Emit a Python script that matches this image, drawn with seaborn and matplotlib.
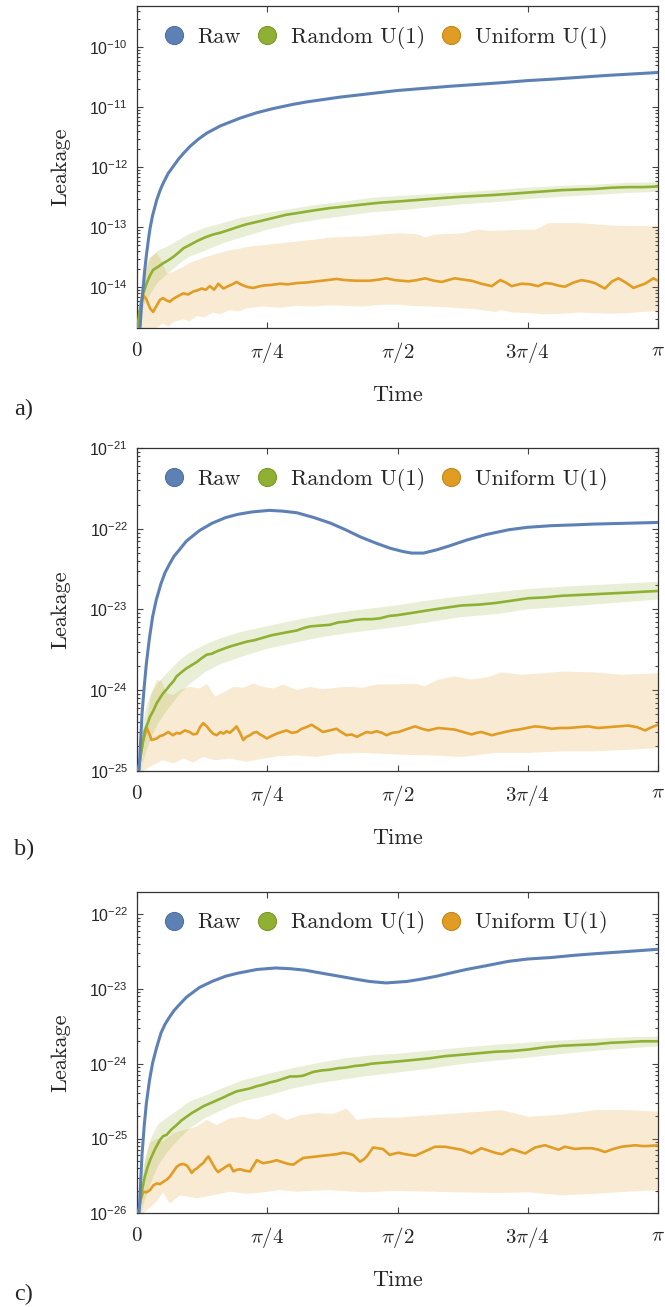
import numpy as np
import matplotlib
matplotlib.use("Agg")
import matplotlib.pyplot as plt
import seaborn as sns
from matplotlib.lines import Line2D
from matplotlib.ticker import FixedLocator, NullFormatter, FuncFormatter

# ---------------- data: time as fraction of pi, leakage as log10 ----------------
# Panel a
raw_a = [(0.0, -16.0), (0.006, -14.66), (0.009, -14.25), (0.012, -13.99), (0.015, -13.7), (0.018, -13.47),
         (0.022, -13.2), (0.025, -13.02), (0.03, -12.8), (0.038, -12.54), (0.045, -12.37), (0.05, -12.27),
         (0.06, -12.1), (0.07, -11.98), (0.08, -11.86), (0.09, -11.76), (0.102, -11.65), (0.118, -11.53),
         (0.134, -11.43), (0.16, -11.31), (0.198, -11.18), (0.23, -11.09), (0.262, -11.02), (0.3, -10.95),
         (0.326, -10.91), (0.39, -10.83), (0.45, -10.77), (0.5, -10.72), (0.6, -10.65), (0.7, -10.59),
         (0.75, -10.555), (0.8, -10.53), (0.9, -10.47), (1.0, -10.42)]
rand_a = [(0.0, -14.75), (0.006, -14.32), (0.012, -14.1), (0.0186, -13.93), (0.025, -13.8), (0.031, -13.71),
          (0.04, -13.66), (0.05, -13.6), (0.06, -13.55), (0.07, -13.49), (0.08, -13.42), (0.089, -13.35),
          (0.1, -13.3), (0.115, -13.23), (0.13, -13.17), (0.146, -13.12), (0.16, -13.09), (0.178, -13.04),
          (0.195, -12.99), (0.21, -12.95), (0.23, -12.91), (0.249, -12.87), (0.268, -12.83), (0.287, -12.79),
          (0.31, -12.76), (0.338, -12.72), (0.37, -12.68), (0.402, -12.65), (0.433, -12.62), (0.466, -12.59),
          (0.5, -12.57), (0.53, -12.55), (0.559, -12.53), (0.59, -12.51), (0.623, -12.49), (0.655, -12.475),
          (0.687, -12.46), (0.72, -12.44), (0.751, -12.42), (0.783, -12.40), (0.815, -12.38), (0.847, -12.37),
          (0.879, -12.36), (0.91, -12.34), (0.943, -12.33), (0.97, -12.33), (1.0, -12.32)]
rand_band_t_a = [0.004, 0.012, 0.025, 0.04, 0.06, 0.08, 0.1, 0.13, 0.16, 0.2, 0.25, 0.3, 0.35, 0.4, 0.45,
                 0.5, 0.56, 0.62, 0.69, 0.75, 0.82, 0.88, 0.94, 1.0]
rand_hi_a = [-14.4, -13.8, -13.5, -13.38, -13.3, -13.2, -13.1, -13.0, -12.93, -12.83, -12.75, -12.68, -12.61,
             -12.56, -12.5, -12.47, -12.44, -12.41, -12.37, -12.33, -12.3, -12.28, -12.25, -12.24]
rand_lo_a = [-14.7, -14.3, -14.1, -13.9, -13.75, -13.6, -13.48, -13.38, -13.27, -13.16, -13.03, -12.93, -12.86,
             -12.8, -12.74, -12.71, -12.66, -12.61, -12.57, -12.52, -12.48, -12.45, -12.42, -12.40]
unif_a = [(0.0, -14.75), (0.008, -14.3), (0.012, -14.13), (0.018, -14.2), (0.025, -14.35), (0.031, -14.41),
          (0.038, -14.3), (0.044, -14.21), (0.05, -14.18), (0.057, -14.22), (0.063, -14.24), (0.07, -14.19),
          (0.076, -14.16), (0.089, -14.10), (0.098, -14.12), (0.108, -14.07), (0.116, -14.05), (0.124, -14.02),
          (0.132, -14.04), (0.14, -13.98), (0.148, -14.04), (0.156, -13.94), (0.166, -14.02), (0.175, -13.98),
          (0.183, -13.95), (0.191, -13.91), (0.199, -13.95), (0.207, -13.98), (0.215, -14.0), (0.223, -14.01),
          (0.232, -13.99), (0.242, -13.97), (0.258, -13.96), (0.274, -13.94), (0.29, -13.95), (0.306, -13.93),
          (0.325, -13.92), (0.345, -13.90), (0.365, -13.88), (0.383, -13.86), (0.4, -13.88), (0.422, -13.89),
          (0.447, -13.89), (0.465, -13.87), (0.479, -13.85), (0.495, -13.88), (0.521, -13.90), (0.537, -13.88),
          (0.553, -13.85), (0.57, -13.89), (0.585, -13.91), (0.597, -13.88), (0.610, -13.85), (0.625, -13.87),
          (0.642, -13.89), (0.661, -13.94), (0.681, -13.98), (0.697, -13.88), (0.708, -13.92), (0.719, -13.98),
          (0.738, -13.94), (0.755, -13.95), (0.770, -13.98), (0.783, -13.93), (0.796, -13.94), (0.808, -13.97),
          (0.821, -13.99), (0.838, -13.92), (0.853, -13.88), (0.866, -13.9), (0.879, -13.93), (0.898, -14.02),
          (0.912, -13.9), (0.924, -13.85), (0.938, -13.92), (0.953, -14.01), (0.965, -13.97), (0.975, -13.94),
          (0.991, -13.85), (1.0, -13.89)]
unif_hi_a = [(0.0, -14.75), (0.006, -14.2), (0.012, -13.71), (0.025, -13.5), (0.038, -13.43), (0.047, -13.55),
             (0.057, -13.77), (0.07, -13.74), (0.089, -13.66), (0.1, -13.6), (0.115, -13.55), (0.13, -13.5),
             (0.146, -13.46), (0.162, -13.42), (0.178, -13.38), (0.195, -13.36), (0.21, -13.33), (0.226, -13.31),
             (0.242, -13.30), (0.258, -13.28), (0.274, -13.27), (0.29, -13.25), (0.306, -13.24), (0.322, -13.22),
             (0.338, -13.21), (0.355, -13.19), (0.37, -13.17), (0.402, -13.16), (0.434, -13.15), (0.47, -13.12),
             (0.502, -13.10), (0.534, -13.11), (0.545, -13.14), (0.553, -13.17), (0.572, -13.12), (0.6, -13.11),
             (0.623, -13.10), (0.655, -13.04), (0.68, -13.06), (0.706, -13.05), (0.735, -13.04), (0.764, -13.04),
             (0.777, -12.99), (0.790, -12.93), (0.82, -12.93), (0.847, -12.93), (0.88, -12.95), (0.911, -12.97),
             (0.95, -12.98), (1.0, -12.98)]
unif_lo_a = [(0.0, -14.75), (0.012, -14.75), (0.03, -14.72), (0.05, -14.6), (0.06, -14.66), (0.07, -14.58),
             (0.089, -14.53), (0.1, -14.57), (0.115, -14.48), (0.13, -14.5), (0.146, -14.42), (0.16, -14.45),
             (0.178, -14.38), (0.195, -14.4), (0.21, -14.35), (0.242, -14.32), (0.274, -14.34), (0.306, -14.31),
             (0.338, -14.32), (0.37, -14.30), (0.402, -14.31), (0.434, -14.32), (0.47, -14.29), (0.5, -14.29),
             (0.53, -14.31), (0.559, -14.32), (0.59, -14.33), (0.623, -14.35), (0.655, -14.37), (0.687, -14.41),
             (0.7, -14.38), (0.72, -14.42), (0.751, -14.43), (0.78, -14.45), (0.815, -14.44), (0.85, -14.42),
             (0.879, -14.43), (0.91, -14.44), (0.943, -14.43), (0.97, -14.41), (1.0, -14.40)]

# Panel b
raw_b = [(0.0, -26.0), (0.004, -25.0), (0.0097, -24.29), (0.014, -23.95), (0.018, -23.67), (0.024, -23.35),
         (0.030, -23.09), (0.037, -22.88), (0.046, -22.68), (0.054, -22.54), (0.063, -22.43), (0.071, -22.34),
         (0.08, -22.27), (0.095, -22.15), (0.12, -22.02), (0.144, -21.93), (0.17, -21.86),
         (0.193, -21.82), (0.22, -21.79), (0.254, -21.77), (0.28, -21.78), (0.307, -21.80), (0.34, -21.86),
         (0.372, -21.93), (0.4, -22.01), (0.429, -22.10), (0.46, -22.18), (0.486, -22.24), (0.51, -22.28),
         (0.527, -22.30), (0.55, -22.30), (0.575, -22.26), (0.6, -22.21), (0.632, -22.14), (0.67, -22.07),
         (0.714, -22.01), (0.75, -21.98), (0.795, -21.96), (0.84, -21.95), (0.877, -21.94), (0.94, -21.93),
         (1.0, -21.92)]
rand_b = [(0.0, -25.1), (0.006, -24.87), (0.01, -24.7), (0.015, -24.5), (0.02, -24.42), (0.025, -24.33),
          (0.031, -24.26), (0.038, -24.16), (0.044, -24.1), (0.05, -24.04), (0.057, -23.99), (0.063, -23.94),
          (0.07, -23.89), (0.076, -23.83), (0.085, -23.78), (0.095, -23.73), (0.105, -23.69), (0.115, -23.65),
          (0.125, -23.6), (0.134, -23.56), (0.143, -23.55), (0.153, -23.52), (0.165, -23.49), (0.178, -23.46),
          (0.194, -23.43), (0.21, -23.40), (0.226, -23.38), (0.242, -23.35), (0.258, -23.32), (0.274, -23.30),
          (0.29, -23.28), (0.307, -23.26), (0.32, -23.23), (0.332, -23.21), (0.35, -23.2), (0.37, -23.19),
          (0.386, -23.16), (0.402, -23.15), (0.418, -23.13), (0.434, -23.12), (0.45, -23.12), (0.466, -23.11),
          (0.484, -23.08), (0.5, -23.07), (0.53, -23.04), (0.559, -23.01), (0.59, -22.98), (0.623, -22.95),
          (0.655, -22.94), (0.687, -22.92), (0.72, -22.89), (0.751, -22.86), (0.783, -22.85), (0.815, -22.83),
          (0.847, -22.82), (0.879, -22.81), (0.91, -22.80), (0.943, -22.79), (0.97, -22.78), (1.0, -22.77)]
rand_band_t_b = [0.006, 0.015, 0.025, 0.04, 0.06, 0.08, 0.1, 0.13, 0.16, 0.2, 0.25, 0.3, 0.35, 0.4, 0.45,
                 0.5, 0.56, 0.62, 0.69, 0.75, 0.82, 0.88, 0.94, 1.0]
rand_hi_b = [-24.6, -24.25, -24.05, -23.9, -23.76, -23.63, -23.53, -23.43, -23.35, -23.27, -23.2, -23.13,
             -23.07, -23.02, -22.98, -22.94, -22.88, -22.83, -22.78, -22.74, -22.71, -22.69, -22.67, -22.65]
rand_lo_b = [-25.0, -24.8, -24.6, -24.4, -24.22, -24.05, -23.92, -23.77, -23.67, -23.58, -23.48, -23.41,
             -23.34, -23.29, -23.25, -23.21, -23.15, -23.09, -23.05, -22.99, -22.96, -22.93, -22.9, -22.87]
unif_b = [(0.0, -25.1), (0.006, -24.85), (0.012, -24.62), (0.019, -24.47), (0.024, -24.55), (0.028, -24.62),
          (0.038, -24.6), (0.044, -24.57), (0.05, -24.56), (0.06, -24.52), (0.069, -24.56), (0.076, -24.53),
          (0.082, -24.54), (0.092, -24.5), (0.101, -24.52), (0.108, -24.55), (0.115, -24.54), (0.121, -24.46),
          (0.127, -24.41), (0.134, -24.45), (0.14, -24.5), (0.146, -24.54), (0.153, -24.56), (0.16, -24.52),
          (0.166, -24.54), (0.172, -24.51), (0.178, -24.53), (0.185, -24.49), (0.191, -24.45), (0.197, -24.52),
          (0.204, -24.62), (0.21, -24.58), (0.217, -24.56), (0.223, -24.53), (0.23, -24.52), (0.236, -24.55),
          (0.242, -24.57), (0.249, -24.60), (0.258, -24.57), (0.268, -24.54), (0.277, -24.52), (0.287, -24.50),
          (0.297, -24.53), (0.307, -24.52), (0.316, -24.48), (0.325, -24.46), (0.335, -24.43), (0.345, -24.47),
          (0.357, -24.52), (0.37, -24.5), (0.383, -24.48), (0.392, -24.52), (0.402, -24.56), (0.412, -24.55),
          (0.422, -24.58), (0.431, -24.55), (0.441, -24.52), (0.45, -24.53), (0.46, -24.51), (0.47, -24.53),
          (0.479, -24.56), (0.49, -24.53), (0.502, -24.52), (0.515, -24.49), (0.534, -24.45), (0.547, -24.48),
          (0.559, -24.50), (0.578, -24.47), (0.594, -24.48), (0.61, -24.49), (0.626, -24.52), (0.642, -24.55),
          (0.652, -24.53), (0.661, -24.52), (0.671, -24.54), (0.681, -24.56), (0.693, -24.54), (0.706, -24.52),
          (0.72, -24.5), (0.732, -24.49), (0.748, -24.47), (0.764, -24.45), (0.78, -24.46), (0.796, -24.48),
          (0.812, -24.47), (0.828, -24.47), (0.847, -24.46), (0.866, -24.45), (0.885, -24.47), (0.904, -24.46),
          (0.924, -24.45), (0.943, -24.44), (0.96, -24.46), (0.975, -24.5), (0.988, -24.46), (1.0, -24.43)]
unif_hi_b = [(0.0, -25.0), (0.009, -24.95), (0.019, -24.37), (0.028, -24.04), (0.038, -23.87), (0.047, -23.89),
             (0.057, -24.04), (0.07, -24.06), (0.082, -24.0), (0.101, -23.96), (0.121, -23.98), (0.134, -23.92),
             (0.150, -24.08), (0.166, -24.03), (0.185, -23.96), (0.204, -23.97), (0.223, -23.92), (0.242, -23.96),
             (0.262, -23.98), (0.281, -23.93), (0.307, -24.0), (0.332, -23.96), (0.357, -23.99), (0.383, -23.97),
             (0.409, -23.96), (0.434, -23.97), (0.46, -23.93), (0.495, -23.93), (0.534, -23.92), (0.553, -23.95),
             (0.578, -23.87), (0.61, -23.83), (0.642, -23.87), (0.674, -23.84), (0.70, -23.78), (0.738, -23.81),
             (0.783, -23.79), (0.815, -23.77), (0.879, -23.78), (0.93, -23.81), (0.969, -23.80), (1.0, -23.79)]
unif_lo_b = [(0.0, -25.0), (0.012, -25.01), (0.025, -24.95), (0.05, -24.87), (0.07, -24.91), (0.089, -24.85),
             (0.108, -24.9), (0.127, -24.83), (0.15, -24.87), (0.178, -24.85), (0.21, -24.89), (0.242, -24.85),
             (0.274, -24.82), (0.307, -24.81), (0.345, -24.83), (0.383, -24.79), (0.434, -24.78), (0.5, -24.8),
             (0.559, -24.81), (0.623, -24.83), (0.687, -24.78), (0.751, -24.78), (0.815, -24.76), (0.879, -24.76),
             (0.943, -24.74), (1.0, -24.72)]

# Panel c
raw_c = [(0.0, -27.0), (0.004, -26.0), (0.0098, -25.2), (0.014, -24.82), (0.018, -24.53), (0.024, -24.22),
         (0.030, -23.99), (0.037, -23.8), (0.046, -23.59), (0.054, -23.47), (0.063, -23.37), (0.071, -23.29),
         (0.08, -23.22), (0.095, -23.11), (0.12, -22.98), (0.144, -22.90), (0.17, -22.83),
         (0.193, -22.79), (0.23, -22.74), (0.266, -22.72), (0.295, -22.73), (0.323, -22.75), (0.355, -22.79),
         (0.388, -22.83), (0.42, -22.87), (0.446, -22.90), (0.478, -22.92), (0.518, -22.90), (0.545, -22.87),
         (0.575, -22.83), (0.6, -22.79), (0.632, -22.74), (0.67, -22.69), (0.714, -22.63), (0.75, -22.60),
         (0.795, -22.58), (0.84, -22.55), (0.877, -22.53), (0.94, -22.50), (1.0, -22.47)]
rand_c = [(0.0, -26.1), (0.006, -25.87), (0.01, -25.68), (0.015, -25.51), (0.02, -25.39), (0.025, -25.29),
          (0.034, -25.15), (0.044, -25.02), (0.05, -24.97), (0.057, -24.95), (0.066, -24.88), (0.076, -24.82),
          (0.085, -24.76), (0.095, -24.71), (0.105, -24.66), (0.115, -24.62), (0.127, -24.57), (0.14, -24.53),
          (0.153, -24.49), (0.166, -24.45), (0.178, -24.41), (0.191, -24.37), (0.204, -24.35), (0.217, -24.33),
          (0.23, -24.30), (0.242, -24.28), (0.255, -24.25), (0.268, -24.23), (0.281, -24.2), (0.294, -24.17),
          (0.307, -24.17), (0.319, -24.16), (0.338, -24.11), (0.354, -24.09), (0.37, -24.08), (0.386, -24.06),
          (0.402, -24.05), (0.418, -24.03), (0.434, -24.02), (0.45, -24.0), (0.466, -23.99), (0.484, -23.98),
          (0.5, -23.97), (0.53, -23.95), (0.559, -23.93), (0.59, -23.9), (0.623, -23.88), (0.655, -23.86),
          (0.687, -23.84), (0.72, -23.83), (0.751, -23.81), (0.783, -23.78), (0.815, -23.76), (0.847, -23.75),
          (0.879, -23.74), (0.91, -23.72), (0.943, -23.71), (0.97, -23.70), (1.0, -23.70)]
rand_band_t_c = [0.006, 0.015, 0.025, 0.04, 0.06, 0.08, 0.1, 0.13, 0.16, 0.2, 0.25, 0.3, 0.35, 0.4, 0.45,
                 0.5, 0.56, 0.62, 0.69, 0.75, 0.82, 0.88, 0.94, 1.0]
rand_hi_c = [-25.6, -25.25, -25.0, -24.8, -24.7, -24.6, -24.5, -24.42, -24.33, -24.22, -24.13, -24.05,
             -23.98, -23.92, -23.88, -23.86, -23.82, -23.78, -23.74, -23.71, -23.68, -23.66, -23.64, -23.63]
rand_lo_c = [-26.0, -25.8, -25.6, -25.35, -25.15, -25.0, -24.86, -24.72, -24.62, -24.5, -24.42, -24.32,
             -24.25, -24.2, -24.15, -24.11, -24.06, -24.0, -23.95, -23.91, -23.86, -23.82, -23.79, -23.76]
unif_c = [(0.0, -26.1), (0.006, -25.85), (0.012, -25.71), (0.018, -25.72), (0.025, -25.69), (0.031, -25.63),
          (0.038, -25.60), (0.044, -25.61), (0.05, -25.58), (0.057, -25.55), (0.063, -25.51), (0.07, -25.44),
          (0.076, -25.38), (0.082, -25.35), (0.089, -25.34), (0.095, -25.36), (0.098, -25.38), (0.105, -25.46),
          (0.11, -25.42), (0.115, -25.40), (0.121, -25.36), (0.127, -25.33), (0.132, -25.28), (0.137, -25.24),
          (0.142, -25.3), (0.146, -25.35), (0.151, -25.41), (0.156, -25.45), (0.161, -25.42), (0.166, -25.40),
          (0.172, -25.37), (0.178, -25.35), (0.185, -25.44), (0.191, -25.42), (0.198, -25.41), (0.207, -25.43),
          (0.217, -25.44), (0.223, -25.37), (0.23, -25.29), (0.236, -25.31), (0.242, -25.33), (0.25, -25.32),
          (0.258, -25.31), (0.268, -25.29), (0.281, -25.32), (0.29, -25.34), (0.3, -25.35), (0.31, -25.3),
          (0.319, -25.26), (0.332, -25.25), (0.345, -25.24), (0.357, -25.23), (0.37, -25.22), (0.383, -25.21),
          (0.396, -25.19), (0.405, -25.2), (0.415, -25.22), (0.428, -25.31), (0.435, -25.28), (0.441, -25.24),
          (0.447, -25.18), (0.453, -25.12), (0.462, -25.13), (0.472, -25.14), (0.485, -25.22), (0.495, -25.20),
          (0.502, -25.19), (0.515, -25.21), (0.534, -25.23), (0.553, -25.17), (0.572, -25.11), (0.591, -25.11),
          (0.607, -25.13), (0.623, -25.15), (0.642, -25.20), (0.661, -25.13), (0.674, -25.16), (0.687, -25.19),
          (0.7, -25.21), (0.719, -25.14), (0.732, -25.17), (0.745, -25.20), (0.764, -25.12), (0.783, -25.09),
          (0.796, -25.12), (0.809, -25.15), (0.821, -25.11), (0.841, -25.14), (0.857, -25.13), (0.873, -25.13),
          (0.886, -25.15), (0.898, -25.18), (0.914, -25.14), (0.930, -25.11), (0.943, -25.10), (0.956, -25.09),
          (0.969, -25.1), (0.981, -25.10), (1.0, -25.09)]
unif_hi_c = [(0.0, -26.0), (0.005, -26.0), (0.015, -25.33), (0.025, -25.06), (0.038, -25.0), (0.05, -25.04),
             (0.07, -24.93), (0.089, -24.89), (0.115, -24.84), (0.134, -24.75), (0.153, -24.82), (0.178, -24.73),
             (0.204, -24.71), (0.23, -24.75), (0.262, -24.66), (0.287, -24.75), (0.313, -24.69), (0.345, -24.66),
             (0.377, -24.67), (0.402, -24.60), (0.422, -24.75), (0.447, -24.73), (0.473, -24.72), (0.502, -24.72),
             (0.559, -24.69), (0.623, -24.66), (0.661, -24.64), (0.70, -24.62), (0.751, -24.71), (0.815, -24.68),
             (0.879, -24.62), (0.943, -24.62), (1.0, -24.64)]
unif_lo_c = [(0.0, -26.0), (0.012, -26.0), (0.038, -25.84), (0.05, -25.72), (0.063, -25.87), (0.083, -25.76),
             (0.115, -25.8), (0.146, -25.76), (0.178, -25.71), (0.21, -25.74), (0.242, -25.72), (0.274, -25.69),
             (0.306, -25.71), (0.37, -25.69), (0.434, -25.72), (0.5, -25.70), (0.559, -25.71), (0.623, -25.72),
             (0.687, -25.73), (0.751, -25.72), (0.815, -25.76), (0.879, -25.74), (0.943, -25.71), (1.0, -25.69)]

ylims_log = {"a": (-14.678, -9.312), "b": (-25.0, -21.0), "c": (-26.0, -21.70)}
panel_labels = ["a)", "b)", "c)"]
series_names = ["Raw", "Random U(1)", "Uniform U(1)"]
xtick_vals = [0, np.pi / 4, np.pi / 2, 3 * np.pi / 4, np.pi]
xtick_text = [r"$0$", r"$\pi/4$", r"$\pi/2$", r"$3\pi/4$", r"$\pi$"]

# ---------------- style ----------------
sns.set_theme(style="ticks")
plt.rcParams.update({
    "font.family": ["DejaVu Sans"],
    "mathtext.fontset": "custom",
    "mathtext.rm": "Liberation Sans",
    "mathtext.it": "Liberation Sans:italic",
    "mathtext.bf": "Liberation Sans:bold",
    "mathtext.sf": "Liberation Sans",
})

C_RAW = "#5E81B5"
C_RAND = "#8FB032"
C_UNIF = "#E19C24"
EDGE = "#333333"

fig = plt.figure(figsize=(6.65, 13.07), dpi=100)
rects = [
    [0.2060, 0.74904, 0.7835, 0.24637],
    [0.2060, 0.41033, 0.7835, 0.24667],
    [0.2060, 0.07169, 0.7835, 0.24606],
]
label_y = [1 - 415 / 1307, 1 - 855 / 1307, 1 - 1300 / 1307]

panels = [
    ("a", raw_a, rand_a, rand_band_t_a, rand_hi_a, rand_lo_a, unif_a, unif_hi_a, unif_lo_a),
    ("b", raw_b, rand_b, rand_band_t_b, rand_hi_b, rand_lo_b, unif_b, unif_hi_b, unif_lo_b),
    ("c", raw_c, rand_c, rand_band_t_c, rand_hi_c, rand_lo_c, unif_c, unif_hi_c, unif_lo_c),
]


def arr(pairs):
    a = np.array(pairs, dtype=float)
    return a[:, 0] * np.pi, 10.0 ** a[:, 1]


for i, (key, raw, rand, bt, bhi, blo, unif, uhi, ulo) in enumerate(panels):
    ax = fig.add_axes(rects[i])
    ax.set_yscale("log")

    # uniform band
    tu, yu = arr(uhi)
    tl, yl = arr(ulo)
    ax.fill(np.r_[tu, tl[::-1]], np.r_[yu, yl[::-1]], color=C_UNIF, alpha=0.2, lw=0, zorder=1)
    # random band
    bt_ = np.array(bt) * np.pi
    ax.fill_between(bt_, 10.0 ** np.array(blo), 10.0 ** np.array(bhi), color=C_RAND, alpha=0.2, lw=0, zorder=2)

    t, y = arr(unif)
    sns.lineplot(x=t, y=y, ax=ax, color=C_UNIF, lw=1.9, sort=False, estimator=None, zorder=3)
    t, y = arr(rand)
    sns.lineplot(x=t, y=y, ax=ax, color=C_RAND, lw=1.9, sort=False, estimator=None, zorder=4)
    t, y = arr(raw)
    sns.lineplot(x=t, y=y, ax=ax, color=C_RAW, lw=2.2, sort=False, estimator=None, zorder=5)

    lo, hi = ylims_log[key]
    ax.set_xlim(0, np.pi)
    ax.set_ylim(10.0 ** lo, 10.0 ** hi)

    # only the ticks that lie inside the visible range
    dec = np.arange(int(np.ceil(lo - 1e-9)), int(np.floor(hi + 1e-9)) + 1)
    majors = 10.0 ** dec
    minors = [m * 10.0 ** d for d in range(int(np.floor(lo)), int(np.ceil(hi)) + 1) for m in range(2, 10)
              if lo <= np.log10(m) + d <= hi]
    ax.yaxis.set_major_locator(FixedLocator(majors))
    ax.yaxis.set_minor_locator(FixedLocator(minors))
    ax.yaxis.set_minor_formatter(NullFormatter())
    ax.yaxis.set_major_formatter(FuncFormatter(lambda v, p: r"$\mathrm{10^{%d}}$" % int(round(np.log10(v)))))
    ax.set_xticks(xtick_vals, xtick_text, fontsize=15, math_fontfamily="cm")

    ax.tick_params(which="both", direction="in", top=True, right=True, color="#444444", width=0.8)
    ax.tick_params(which="major", length=4.2)
    ax.tick_params(which="minor", length=2.2)
    ax.tick_params(axis="y", which="major", labelsize=11.5, pad=6.5)
    ax.tick_params(axis="x", which="major", pad=8.5)
    for s in ax.spines.values():
        s.set_color(EDGE)
        s.set_linewidth(0.9)

    ax.set_xlabel("Time", fontfamily="cmr10", fontsize=16)
    ax.set_ylabel("Leakage", fontfamily="cmr10", fontsize=16)
    ax.xaxis.set_label_coords(0.5, -0.227)
    ax.xaxis.label.set_va("baseline")
    ax.yaxis.set_label_coords(-0.147, 0.5)
    ax.yaxis.label.set_va("center")

    handles = [
        Line2D([], [], ls="none", marker="o", ms=13, mfc=C_RAW, mec="#4f6f9f", mew=0.8),
        Line2D([], [], ls="none", marker="o", ms=13, mfc=C_RAND, mec="#7a9a28", mew=0.8),
        Line2D([], [], ls="none", marker="o", ms=13, mfc=C_UNIF, mec="#c4861c", mew=0.8),
    ]
    ax.legend(handles, series_names, loc="center", bbox_to_anchor=(0.476, 0.903), ncol=3, frameon=False,
              prop={"family": "cmr10", "size": 16}, handlelength=1.0, handletextpad=0.55,
              columnspacing=0.7, borderpad=0, borderaxespad=0)

    fig.text(0.036, label_y[i], panel_labels[i], fontfamily="Liberation Serif", fontsize=17.5,
             ha="center", va="baseline")

fig.savefig("out.png", dpi=100)
